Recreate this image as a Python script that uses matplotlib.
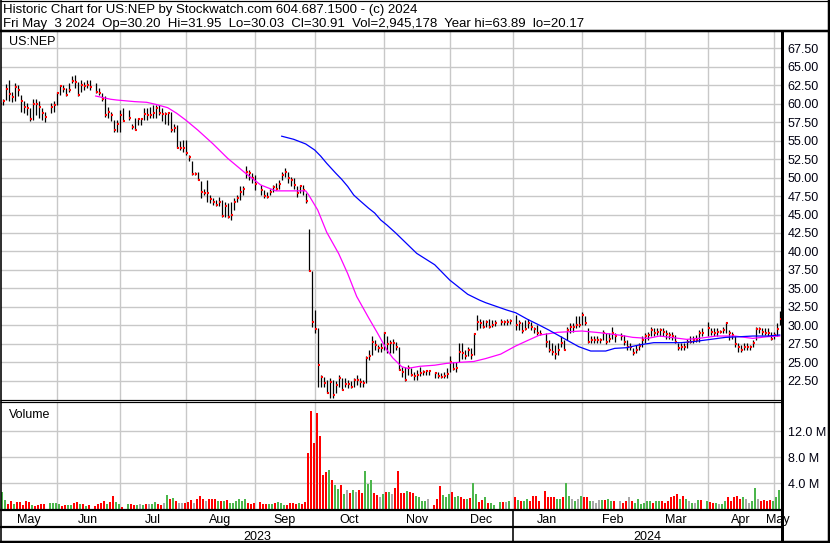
import numpy as np
import pandas as pd
import matplotlib
matplotlib.use("Agg")
import matplotlib.pyplot as plt
from matplotlib.lines import Line2D

plt.rcParams["font.family"] = ["Liberation Sans", "DejaVu Sans"]

# ----------------------------
# Data (US:NEP, daily bars)
# ----------------------------
first_day = "2023-05-05"
last_day = "2024-05-03"
holidays = ["2023-05-29", "2023-06-19", "2023-07-04", "2023-09-04", "2023-11-23",
            "2023-12-25", "2024-01-01", "2024-01-15", "2024-02-19", "2024-03-29"]

high = [
    61.5, 60.7, 62.7, 63.2, 61.6, 62.8, 62.5, 61.2, 60.3, 60.1, 59.4, 60.7, 60.7, 60.3, 59.4, 58.9, 60.1, 60.3,
    61.6, 62.5, 62.5, 62.1, 62.8, 63.7, 63.89, 63.0, 63.2, 63.0, 63.2, 63.2, 62.8, 62.1, 61.4, 61.0, 59.6, 58.9, 57.8, 57.8, 59.2,
    59.4, 59.2, 57.3, 58.0, 58.0, 58.0, 59.4, 59.4, 59.6, 59.8, 59.8, 59.8, 59.4, 58.9, 58.9, 58.9, 57.3, 57.1, 54.9, 55.1,
    55.1, 53.1, 52.2, 50.8, 50.8, 49.5, 48.5, 49.7, 47.6, 47.2, 47.0, 47.4, 47.0, 46.7, 46.5, 46.7, 47.2, 47.6, 48.8, 48.8, 51.6, 51.0, 50.6,
    50.4, 49.0, 48.3, 48.1, 48.5, 49.0, 49.2, 49.7, 50.8, 51.3, 50.8, 50.1, 49.9, 48.8, 49.0, 49.0, 47.9, 43.0, 37.3, 32.1,
    29.6, 23.3, 23.0, 22.6, 22.8, 22.6, 22.4, 23.3, 22.8, 22.8, 22.6, 22.4, 22.8, 23.3, 22.8, 22.6, 25.9, 26.6, 28.5, 28.0, 27.4, 27.6,
    29.1, 28.6, 28.0, 28.1, 27.8, 27.1, 24.4, 24.4, 24.6, 24.2, 23.7, 23.9, 24.4, 23.9, 23.9, 23.9, 23.7, 23.7, 23.5, 23.7, 24.2,
    25.8, 25.1, 25.1, 27.6, 27.6, 26.7, 27.1, 26.9, 28.9, 31.4, 30.9, 30.7, 30.7, 30.9, 30.7, 30.7, 30.9, 30.7, 30.9, 30.9,
    31.4, 30.7, 30.4, 30.7, 30.8, 30.5, 29.8, 30.0, 29.4, 28.9, 28.0, 27.6, 27.3, 27.6, 28.5, 28.0, 29.8, 30.3, 30.3, 31.2, 31.2,
    31.8, 31.2, 29.6, 28.5, 28.5, 28.5, 28.3, 29.4, 28.9, 28.9, 29.8, 28.9, 28.9, 28.7, 28.0, 27.6, 26.9, 27.3, 27.6, 28.5,
    28.9, 29.1, 29.8, 29.6, 29.6, 29.6, 29.6, 29.4, 29.1, 29.1, 28.7, 27.6, 27.6, 27.6, 28.2, 28.5, 28.5, 28.7, 29.4, 29.6,
    30.5, 29.6, 29.6, 29.6, 29.4, 29.8, 30.4, 29.4, 29.1, 28.5, 27.6, 27.3, 27.6, 27.6, 27.4, 28.0, 29.8, 29.8, 29.6, 29.6, 29.6, 29.1,
    29.1, 30.3, 31.95,
]

low = [
    55.6, 59.8, 60.5, 60.3, 60.2, 60.3, 61.0, 58.9, 58.7, 58.5, 57.6, 57.8, 58.5, 58.0, 57.8, 57.5, 58.7, 58.9,
    59.8, 61.2, 61.6, 61.0, 61.6, 62.8, 62.1, 61.0, 61.6, 61.9, 62.1, 61.9, 61.4, 61.2, 60.3, 58.2, 58.0, 57.6, 56.2, 56.2, 56.2,
    57.6, 57.8, 56.6, 56.4, 57.1, 57.1, 57.8, 57.8, 58.0, 58.0, 58.0, 58.5, 57.6, 57.3, 57.1, 56.2, 56.2, 54.0, 53.7, 53.5,
    53.1, 52.2, 50.3, 50.3, 49.7, 47.2, 47.6, 46.7, 46.5, 46.3, 46.1, 46.1, 44.7, 44.7, 44.5, 44.2, 45.6, 46.7, 47.0, 47.6, 49.9, 49.7, 49.2,
    48.3, 47.6, 47.2, 47.2, 47.6, 48.1, 48.3, 48.5, 49.7, 50.1, 49.2, 48.8, 48.5, 47.4, 47.9, 47.6, 46.5, 37.3, 29.8, 28.9,
    21.7, 21.7, 21.7, 20.8, 20.2, 20.17, 20.8, 21.7, 21.2, 21.7, 21.5, 21.5, 21.7, 21.9, 21.7, 21.7, 22.2, 25.3, 26.0, 26.6, 26.4, 26.4,
    26.7, 26.3, 26.2, 26.2, 26.7, 23.9, 23.0, 22.4, 23.3, 23.1, 22.6, 22.6, 23.1, 23.3, 23.3, 23.3, 22.8, 22.8, 22.8, 22.8, 22.8,
    23.7, 23.9, 23.7, 25.1, 25.5, 25.5, 25.8, 25.5, 26.0, 29.4, 29.6, 29.6, 29.8, 29.6, 29.8, 29.9, 30.0, 30.0, 30.1, 30.2,
    29.4, 29.4, 28.9, 29.4, 29.6, 29.4, 28.9, 28.7, 28.7, 27.1, 26.4, 26.0, 25.4, 26.0, 27.1, 26.6, 28.0, 28.9, 29.1, 29.6, 29.8,
    30.0, 30.0, 27.6, 27.6, 27.6, 27.6, 27.6, 28.0, 27.5, 27.8, 28.2, 27.8, 28.0, 27.3, 26.7, 26.7, 26.0, 26.2, 26.7, 27.1,
    27.6, 28.0, 28.5, 28.5, 28.7, 28.5, 28.5, 28.2, 28.2, 28.0, 27.6, 26.7, 26.7, 26.7, 26.9, 27.6, 27.6, 27.8, 27.8, 28.5,
    28.5, 28.7, 28.5, 28.5, 28.9, 28.9, 28.9, 28.0, 28.2, 27.1, 26.4, 26.4, 26.7, 26.7, 26.7, 27.1, 28.0, 28.9, 28.7, 28.7, 28.5, 28.0,
    28.2, 28.5, 30.03,
]

close = [
    60.0, 60.4, 62.0, 61.3, 60.9, 62.2, 61.8, 60.3, 59.5, 59.4, 57.9, 60.0, 59.9, 59.5, 58.8, 58.2, 59.5, 59.8,
    61.4, 62.4, 62.0, 61.2, 61.8, 63.1, 63.0, 61.2, 62.5, 62.4, 62.5, 62.3, 61.6, 61.5, 60.6, 58.5, 58.9, 58.5, 56.4, 57.3, 58.5,
    57.7, 58.1, 56.8, 56.4, 57.9, 57.9, 58.6, 58.5, 58.5, 58.7, 59.4, 58.7, 58.6, 58.6, 58.7, 56.4, 56.7, 54.0, 54.0, 54.0,
    53.3, 52.8, 50.5, 50.5, 49.7, 48.1, 47.9, 47.9, 47.1, 46.7, 46.3, 46.7, 44.8, 46.2, 44.7, 44.9, 46.7, 47.3, 48.1, 48.5, 50.8, 50.6, 49.9,
    49.1, 48.3, 47.5, 47.4, 48.0, 48.7, 48.5, 49.1, 50.4, 50.8, 50.0, 49.7, 49.0, 47.9, 48.8, 48.3, 46.8, 37.4, 30.4, 29.5,
    24.6, 23.0, 22.2, 20.9, 22.3, 20.5, 21.9, 22.8, 21.3, 22.05, 22.05, 21.65, 22.6, 22.6, 22.3, 22.2, 25.6, 25.9, 27.8, 27.3, 26.9, 26.9,
    29.0, 27.5, 27.6, 27.6, 27.0, 23.9, 23.7, 22.6, 24.2, 23.3, 23.1, 23.3, 23.6, 23.7, 23.8, 23.8, 23.5, 23.1, 22.95, 23.1, 23.4,
    25.0, 24.1, 24.2, 26.4, 26.2, 25.8, 26.7, 26.0, 28.8, 30.5, 30.3, 29.8, 30.5, 29.8, 30.0, 30.3, 30.5, 30.4, 30.4, 30.6,
    30.0, 30.3, 29.2, 29.5, 30.3, 29.8, 29.5, 28.9, 28.8, 27.8, 26.6, 26.4, 26.1, 26.7, 27.6, 26.7, 29.4, 29.8, 29.8, 30.0, 30.0,
    31.4, 30.3, 27.8, 28.0, 28.0, 28.0, 28.0, 29.0, 27.8, 28.2, 29.0, 28.5, 28.5, 27.8, 27.0, 27.0, 26.3, 26.7, 27.2, 28.0,
    28.5, 28.7, 29.3, 29.0, 29.1, 29.3, 29.1, 28.8, 28.7, 28.5, 27.8, 26.9, 27.1, 27.0, 27.8, 27.8, 28.0, 28.0, 29.0, 28.9,
    29.6, 29.1, 29.0, 29.1, 29.1, 29.4, 30.3, 28.9, 28.7, 27.5, 27.1, 26.7, 27.0, 27.0, 27.0, 27.6, 29.45, 29.45, 29.1, 29.0, 28.9, 28.2,
    28.7, 29.45, 30.91,
]

# volume in millions of shares
volume_m = [
    4.2, 2.7, 1.4, 0.8, 1.2, 0.7, 1.1, 1.1, 0.6, 1.2, 1.1, 0.6, 0.5, 0.6, 0.8, 0.8, 0.9, 0.9,
    0.9, 0.8, 0.5, 0.6, 0.6, 0.6, 1.0, 1.1, 0.7, 0.7, 0.4, 0.6, 0.5, 0.7, 0.9, 1.2, 0.7, 1.1, 2.0, 1.1, 0.8,
    0.3, 0.7, 0.8, 0.6, 0.6, 0.8, 0.6, 0.7, 0.7, 0.7, 1.1, 0.7, 0.6, 1.0, 2.2, 1.5, 1.7, 1.2, 1.0, 1.0,
    1.0, 1.1, 1.4, 1.0, 1.5, 2.0, 1.6, 1.3, 1.6, 1.6, 1.5, 1.2, 1.2, 1.2, 1.4, 1.0, 1.0, 1.2, 1.6, 1.2, 1.6, 1.0, 0.8,
    0.9, 1.1, 0.7, 0.8, 0.8, 0.8, 0.9, 1.1, 1.0, 0.6, 0.6, 0.9, 0.9, 0.7, 1.0, 0.8, 1.1, 8.6, 15.1, 10.2,
    14.9, 11.3, 5.3, 5.8, 6.05, 4.5, 3.7, 3.1, 3.7, 2.3, 3.0, 2.5, 2.9, 2.6, 2.9, 2.4, 5.9, 3.9, 4.5, 2.5, 2.2, 1.8,
    2.3, 2.6, 2.6, 2.3, 3.3, 5.9, 2.5, 2.5, 2.8, 2.7, 2.4, 2.0, 1.9, 1.3, 1.3, 1.5, 0.6, 1.5, 3.5, 2.2, 1.8,
    2.3, 2.6, 1.8, 2.0, 1.8, 1.5, 1.6, 1.7, 4.1, 2.3, 1.1, 1.4, 1.8, 1.0, 0.9, 0.6, 1.1, 1.1, 1.1, 1.2,
    1.8, 1.4, 1.2, 1.2, 1.6, 1.2, 2.0, 2.0, 1.2, 2.8, 1.8, 1.9, 1.8, 1.5, 1.5, 1.8, 4.1, 2.0, 1.6, 1.2, 1.6,
    2.0, 1.8, 1.9, 1.2, 1.2, 1.0, 1.4, 1.4, 1.4, 1.6, 1.2, 1.2, 1.3, 1.0, 1.2, 1.8, 1.2, 1.0, 1.6, 0.8,
    1.0, 1.2, 1.3, 1.0, 1.2, 1.3, 1.2, 1.0, 1.2, 1.8, 2.0, 2.3, 1.6, 2.0, 1.6, 1.2, 1.0, 1.0, 1.4, 1.4,
    1.2, 1.1, 1.0, 0.9, 0.8, 0.8, 1.2, 1.8, 1.2, 1.8, 2.0, 1.6, 1.8, 1.6, 1.0, 1.2, 3.3, 1.6, 1.2, 1.4, 1.2, 1.4,
    1.2, 1.8, 2.9,
]

# moving averages, read at sample points
ma_fast_dates = [
    "2023-06-20", "2023-06-27", "2023-06-29", "2023-07-07", "2023-07-13", "2023-07-18", "2023-07-24",
    "2023-07-27", "2023-08-01", "2023-08-07", "2023-08-14", "2023-08-21", "2023-08-29", "2023-09-05",
    "2023-09-12", "2023-09-20", "2023-09-26", "2023-09-27", "2023-10-02", "2023-10-05", "2023-10-11",
    "2023-10-16", "2023-10-19", "2023-10-25", "2023-10-30", "2023-11-02", "2023-11-06", "2023-11-09",
    "2023-11-13", "2023-11-17", "2023-11-24", "2023-11-30", "2023-12-06", "2023-12-13", "2023-12-19",
    "2023-12-26", "2024-01-02", "2024-01-08", "2024-01-12", "2024-01-22", "2024-02-01", "2024-02-09",
    "2024-02-20", "2024-02-26", "2024-03-04", "2024-03-08", "2024-03-15", "2024-03-21", "2024-03-27",
    "2024-04-04", "2024-04-12", "2024-04-22", "2024-04-29", "2024-05-03",
]
ma_fast = [
    61.04, 60.6, 60.5, 60.28, 60.19, 59.91, 59.46, 58.7, 57.79, 56.44, 54.6, 52.6, 50.57, 49.0,
    48.2, 48.2, 48.2, 47.64, 45.61, 42.6, 39.7, 37.0, 33.9, 31.0, 28.9, 26.7, 25.6, 24.4,
    24.17, 24.45, 24.6, 24.85, 24.98, 25.1, 25.5, 26.1, 27.2, 27.95, 28.68, 29.05, 29.23, 29.0,
    28.65, 28.37, 28.23, 28.55, 28.3, 28.1, 28.23, 28.55, 28.55, 28.23, 28.46, 28.55,
]

ma_slow_dates = [
    "2023-09-14", "2023-09-20", "2023-09-26", "2023-09-29", "2023-10-03", "2023-10-05", "2023-10-10",
    "2023-10-12", "2023-10-16", "2023-10-18", "2023-10-20", "2023-10-25", "2023-10-27", "2023-10-31",
    "2023-11-02", "2023-11-07", "2023-11-16", "2023-11-24", "2023-12-01", "2023-12-11", "2023-12-15",
    "2023-12-19", "2023-12-28", "2024-01-02", "2024-01-08", "2024-01-12", "2024-01-17", "2024-01-25",
    "2024-01-31", "2024-02-06", "2024-02-13", "2024-02-16", "2024-02-22", "2024-02-28", "2024-03-06",
    "2024-03-12", "2024-03-19", "2024-03-25", "2024-04-02", "2024-04-09", "2024-04-16", "2024-04-22",
    "2024-04-29", "2024-05-03",
]
ma_slow = [
    55.6, 55.18, 54.55, 53.73, 52.9, 51.93, 50.6, 49.76, 48.8, 47.64, 46.9, 45.84, 45.2, 44.26,
    43.6, 42.5, 39.74, 38.2, 36.13, 34.2, 33.4, 33.06, 32.07, 31.7, 30.8, 30.0, 29.37, 28.01,
    27.11, 26.52, 26.52, 26.88, 26.97, 27.33, 27.65, 27.65, 27.65, 27.78, 28.1, 28.37, 28.46, 28.55,
    28.55, 28.69,
]

title_1 = "Historic Chart for US:NEP by Stockwatch.com 604.687.1500 - (c) 2024"
title_2 = ("Fri May  3 2024  Op=30.20  Hi=31.95  Lo=30.03  Cl=30.91  "
           "Vol=2,945,178  Year hi=63.89  lo=20.17")
symbol = "US:NEP"

# ----------------------------
# Trading-day x positions (weekday slots, holidays left as gaps)
# ----------------------------
origin = np.datetime64("2023-06-01")


def slot(d):
    return np.busday_count(origin, np.asarray(d, dtype="datetime64[D]"))


days = pd.bdate_range(first_day, last_day)
days = days[~days.isin(pd.to_datetime(holidays))]
x = slot(days.values.astype("datetime64[D]")).astype(float)

high = np.array(high)
low = np.array(low)
close = np.array(close)
volume_m = np.array(volume_m)

chg = np.diff(close, prepend=close[0])
vol_colors = np.where(chg > 0, "#4cb64c", np.where(chg < 0, "#ff0000", "#a8a8a8"))

months = pd.date_range("2023-06-01", "2024-05-01", freq="MS")
month_start = np.busday_offset(months.values.astype("datetime64[D]"), 0, roll="backward")
month_x = slot(month_start).astype(float)

# ----------------------------
# Figure geometry (pixels)
# ----------------------------
W, H = 830, 543
fig = plt.figure(figsize=(W / 100, H / 100), dpi=100)
fig.patch.set_facecolor("white")

x_left, x_right = (1 - 56.7) / 3, (781 - 56.7) / 3


def box(x0, y0, x1, y1):
    return [x0 / W, 1 - y1 / H, (x1 - x0) / W, (y1 - y0) / H]


grid_kw = dict(color="#c8c8c8", lw=1.0)

# ----------------------------
# Price panel
# ----------------------------
ax_p = fig.add_axes(box(1, 31, 781, 400))
ax_p.set_xlim(x_left, x_right)
ax_p.set_ylim(67.5 - (400 - 48.3) / 7.387, 67.5 + (48.3 - 31) / 7.387)
for s in ax_p.spines.values():
    s.set_visible(False)
ax_p.set_axisbelow(True)
ax_p.set_xticks(month_x)
ax_p.set_xticklabels([])
ax_p.set_yticks(np.arange(22.5, 67.6, 2.5))
ax_p.yaxis.tick_right()
ax_p.yaxis.set_major_formatter(plt.FuncFormatter(lambda v, p: f"{v:.2f}"))
ax_p.tick_params(length=0, labelsize=9, pad=4.8, labelcolor="#000010")
ax_p.grid(True, **grid_kw)

ax_p.vlines(x, low, high, color="black", lw=0.9)
ax_p.hlines(close, x + 0.2, x + 0.85, color="#ff0000", lw=1.5)

ax_p.plot(slot(ma_fast_dates), ma_fast, color="#ff00ff", lw=0.9)
ax_p.plot(slot(ma_slow_dates), ma_slow, color="#0000ff", lw=0.9)

# ----------------------------
# Volume panel
# ----------------------------
ax_v = fig.add_axes(box(1, 402, 781, 509))
ax_v.set_xlim(x_left, x_right)
ax_v.set_ylim(0, (509 - 402) / 25.85 * 4)
for s in ax_v.spines.values():
    s.set_visible(False)
ax_v.set_axisbelow(True)
ax_v.set_xticks(month_x)
ax_v.set_xticklabels([])
ax_v.set_yticks([4, 8, 12])
ax_v.yaxis.tick_right()
ax_v.yaxis.set_major_formatter(plt.FuncFormatter(lambda v, p: f"{v:.1f} M"))
ax_v.tick_params(length=0, labelsize=9, pad=4.8, labelcolor="#000010")
ax_v.grid(True, **grid_kw)
ax_v.bar(x - 0.7, volume_m, width=0.67, align="edge", color=vol_colors, lw=0)

# ----------------------------
# Date rows
# ----------------------------
ax_d = fig.add_axes(box(1, 509, 781, 543))
ax_d.set_xlim(x_left, x_right)
ax_d.set_ylim(543, 509)
ax_d.axis("off")

edges = np.concatenate([[x_left], month_x, [x_right]])
month_names = ["May"] + [m.strftime("%b") for m in months]
for i, name in enumerate(month_names):
    ax_d.text((edges[i] + edges[i + 1]) / 2, 522.8, name, ha="center", va="baseline", fontsize=9)

year_x = slot("2024-01-01")
ax_d.text((x_left + year_x) / 2, 540.3, "2023", ha="center", va="baseline", fontsize=9)
ax_d.text((year_x + x_right) / 2, 540.3, "2024", ha="center", va="baseline", fontsize=9)

# ----------------------------
# Texts
# ----------------------------
fig.text(3 / W, 1 - 13.3 / H, title_1, fontsize=9.5, va="baseline")
fig.text(3 / W, 1 - 27.3 / H, title_2, fontsize=9.5, va="baseline")
fig.text(9.5 / W, 1 - 45 / H, symbol, fontsize=9, va="baseline")
fig.text(9 / W, 1 - 418 / H, "Volume", fontsize=9, va="baseline")

# ----------------------------
# Frame lines
# ----------------------------
def hline(y, x0, x1, w):
    fig.add_artist(Line2D([x0 / W, x1 / W], [1 - y / H, 1 - y / H], color="black",
                          lw=w * 0.72, solid_capstyle="butt"))


def vline(xp, y0, y1, w):
    fig.add_artist(Line2D([xp / W, xp / W], [1 - y0 / H, 1 - y1 / H], color="black",
                          lw=w * 0.72, solid_capstyle="butt"))


hline(0.6, 0, W, 1.2)
hline(30.5, 0, W, 2.5)
hline(542, 0, W, 2.5)
vline(0.8, 0, H, 1.6)
vline(829, 0, H, 2.5)
vline(782, 30, H, 3)
hline(400.3, 0, 782, 1.2)
hline(402.4, 0, 782, 1.2)
hline(510, 0, 782, 2.2)
hline(527, 0, 782, 2.2)
vline(512.9, 509, H, 1.6)

fig.savefig("out.png", dpi=100, facecolor="white")
